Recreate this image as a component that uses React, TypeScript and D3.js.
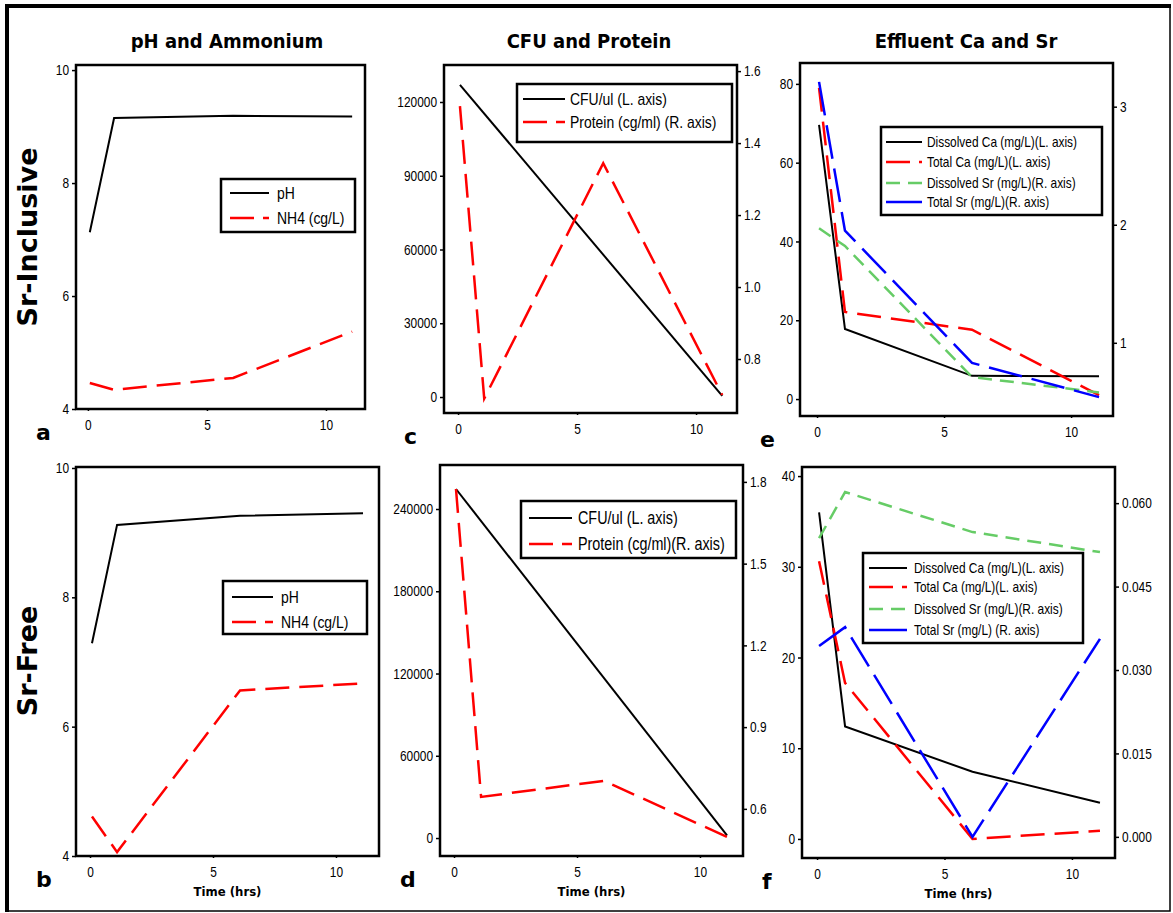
import { useRef, useEffect } from "react";
import { select, scaleLinear, axisLeft, axisRight, axisBottom, line, format } from "d3";

// sampling times (hrs)
const hours = [0.08, 1.1, 6.1, 11.1];
const cfuHours = [0.08, 11.1];

// Sr-Inclusive
const phInc = [7.13, 9.15, 9.19, 9.18];
const nh4Inc = [4.46, 4.34, 4.55, 5.37];
const cfuInc = [127000, 500];
const proteinInc = [1.503, 0.69, 1.344, 0.7];
const dissCaInc = [69.6, 17.8, 5.9, 5.8];
const totCaInc = [79, 22.1, 17.6, 1.0];
const dissSrInc = [1.97, 1.82, 0.71, 0.58];
const totSrInc = [3.21, 1.95, 0.83, 0.54];

// Sr-Free
const phFree = [7.29, 9.12, 9.26, 9.3];
const nh4Free = [4.61, 4.06, 6.56, 6.67];
const cfuFree = [254600, 2000];
const proteinFree = [1.774, 0.644, 0.703, 0.497];
const dissCaFree = [36.0, 12.4, 7.4, 4.0];
const totCaFree = [30.6, 17.2, 0, 0.9];
const dissSrFree = [0.0537, 0.062, 0.0548, 0.0512];
const totSrFree = [0.0343, 0.0377, 0.0, 0.0356];

// tick labels
const xTicks = [0, 5, 10];
const phTicks = [4, 6, 8, 10];
const cfuIncTicks = [0, 30000, 60000, 90000, 120000];
const protIncTicks = [0.8, 1.0, 1.2, 1.4, 1.6];
const cfuFreeTicks = [0, 60000, 120000, 180000, 240000];
const protFreeTicks = [0.6, 0.9, 1.2, 1.5, 1.8];
const caIncTicks = [0, 20, 40, 60, 80];
const srIncTicks = [1, 2, 3];
const caFreeTicks = [0, 10, 20, 30, 40];
const srFreeTicks = [0, 0.015, 0.03, 0.045, 0.06];

const titles = ["pH and Ammonium", "CFU and Protein", "Effluent Ca and Sr"];

const sans = "'Liberation Sans', Arial, sans-serif";
const boldFont = "'DejaVu Sans Condensed', 'DejaVu Sans', sans-serif";

const styles = {
  black: { color: "#000", dash: null, width: 2 },
  red: { color: "#ff0000", dash: "24,10", width: 2.5 },
  green: { color: "#66cc66", dash: "14,8", width: 2.5 },
  blue: { color: "#0000ff", dash: "34,10", width: 2.5 },
};

const panels = [
  {
    letter: "a", box: [76, 365, 65, 409], xDom: [-0.5, 11.64], yL: [4, 10.09], yLTicks: phTicks, yLFmt: format("d"),
    series: [
      { t: hours, v: phInc, s: "black", axis: "L", label: "pH" },
      { t: hours, v: nh4Inc, s: "red", axis: "L", label: "NH4 (cg/L)" },
    ],
    legend: { x: 221, y: 179, w: 134, h: 53, fs: 17, rows: [193, 218], lx: [230, 269], tx: 277 },
  },
  {
    letter: "c", box: [444, 737, 65, 413], xDom: [-0.59, 11.72], yL: [-6500, 135050], yLTicks: cfuIncTicks, yLFmt: format("d"),
    yR: [0.65, 1.617], yRTicks: protIncTicks, yRFmt: format(".1f"),
    series: [
      { t: cfuHours, v: cfuInc, s: "black", axis: "L", label: "CFU/ul (L. axis)" },
      { t: hours, v: proteinInc, s: "red", axis: "R", label: "Protein (cg/ml) (R. axis)" },
    ],
    legend: { x: 517, y: 84, w: 215, h: 58, fs: 17, rows: [99, 122], lx: [523, 565], tx: 570 },
  },
  {
    letter: "e", box: [800, 1113, 63, 416], xDom: [-0.67, 11.65], yL: [-4.3, 85.3], yLTicks: caIncTicks, yLFmt: format("d"),
    yR: [0.38, 3.37], yRTicks: srIncTicks, yRFmt: format("d"),
    series: [
      { t: hours, v: dissCaInc, s: "black", axis: "L", label: "Dissolved Ca (mg/L)(L. axis)" },
      { t: hours, v: totCaInc, s: "red", axis: "L", label: "Total Ca (mg/L)(L. axis)" },
      { t: hours, v: dissSrInc, s: "green", axis: "R", label: "Dissolved Sr (mg/L)(R. axis)" },
      { t: hours, v: totSrInc, s: "blue", axis: "R", label: "Total Sr (mg/L)(R. axis)" },
    ],
    legend: { x: 881, y: 127, w: 221, h: 88, fs: 14.5, rows: [142, 162, 183, 202], lx: [886, 922], tx: 927 },
  },
  {
    letter: "b", box: [76, 379, 467, 856], xDom: [-0.57, 11.75], yL: [4, 10.015], yLTicks: phTicks, yLFmt: format("d"),
    series: [
      { t: hours, v: phFree, s: "black", axis: "L", label: "pH" },
      { t: hours, v: nh4Free, s: "red", axis: "L", label: "NH4 (cg/L)" },
    ],
    legend: { x: 223, y: 581, w: 144, h: 53, fs: 17, rows: [597, 622], lx: [232, 273], tx: 281 },
    xLabel: true,
  },
  {
    letter: "d", box: [440, 743, 465, 856], xDom: [-0.57, 11.75], yL: [-13100, 272100], yLTicks: cfuFreeTicks, yLFmt: format("d"),
    yR: [0.427, 1.862], yRTicks: protFreeTicks, yRFmt: format(".1f"),
    series: [
      { t: cfuHours, v: cfuFree, s: "black", axis: "L", label: "CFU/ul (L. axis)" },
      { t: hours, v: proteinFree, s: "red", axis: "R", label: "Protein (cg/ml)(R. axis)" },
    ],
    legend: { x: 521, y: 501, w: 215, h: 57, fs: 17.5, rows: [518, 544], lx: [529, 572], tx: 578 },
    xLabel: true,
  },
  {
    letter: "f", box: [802, 1115, 467, 858], xDom: [-0.59, 11.69], yL: [-2.1, 41], yLTicks: caFreeTicks, yLFmt: format("d"),
    yR: [-0.0038, 0.0665], yRTicks: srFreeTicks, yRFmt: format(".3f"),
    series: [
      { t: hours, v: dissCaFree, s: "black", axis: "L", label: "Dissolved Ca (mg/L)(L. axis)" },
      { t: hours, v: totCaFree, s: "red", axis: "L", label: "Total Ca (mg/L)(L. axis)" },
      { t: hours, v: dissSrFree, s: "green", axis: "R", label: "Dissolved Sr (mg/L)(R. axis)" },
      { t: hours, v: totSrFree, s: "blue", axis: "R", label: "Total Sr (mg/L) (R. axis)" },
    ],
    legend: { x: 863, y: 553, w: 220, h: 90, fs: 14.5, rows: [568, 587, 609, 630], lx: [869, 907], tx: 914 },
    xLabel: true,
  },
];

// narrow the glyphs a bit (no condensed sans is installed)
function squeeze(sel, k = 0.82) {
  sel.each(function () {
    const w = this.getComputedTextLength();
    if (w > 0) {
      this.setAttribute("textLength", String(w * k));
      this.setAttribute("lengthAdjust", "spacingAndGlyphs");
    }
  });
}

function styleAxis(g) {
  g.select(".domain").remove();
  g.selectAll(".tick line").attr("stroke", "#000").attr("stroke-width", 1.5);
  g.selectAll(".tick text").attr("font-family", sans).attr("font-size", 14.5).attr("fill", "#000");
  squeeze(g.selectAll(".tick text"));
}

function drawPanel(svg, p) {
  const [left, right, top, bottom] = p.box;
  const g = svg.append("g");
  const x = scaleLinear().domain(p.xDom).range([left, right]);
  const yL = scaleLinear().domain(p.yL).range([bottom, top]);
  const yR = p.yR ? scaleLinear().domain(p.yR).range([bottom, top]) : null;

  g.append("g").attr("transform", `translate(${left},0)`)
    .call(axisLeft(yL).tickValues(p.yLTicks).tickFormat(p.yLFmt).tickSize(4).tickPadding(3))
    .call(styleAxis);
  if (yR) {
    g.append("g").attr("transform", `translate(${right},0)`)
      .call(axisRight(yR).tickValues(p.yRTicks).tickFormat(p.yRFmt).tickSize(4).tickPadding(3))
      .call(styleAxis);
  }
  g.append("g").attr("transform", `translate(0,${bottom})`)
    .call(axisBottom(x).tickValues(xTicks).tickFormat(format("d")).tickSize(2).tickPadding(9))
    .call(styleAxis);

  p.series.forEach((s) => {
    const st = styles[s.s];
    const y = s.axis === "R" ? yR : yL;
    const pts = s.t.map((t, i) => [t, s.v[i]]);
    g.append("path")
      .datum(pts)
      .attr("d", line().x((d) => x(d[0])).y((d) => y(d[1])))
      .attr("fill", "none")
      .attr("stroke", st.color)
      .attr("stroke-width", st.width)
      .attr("stroke-dasharray", st.dash)
      .attr("stroke-linejoin", "miter");
  });

  g.append("rect")
    .attr("x", left).attr("y", top)
    .attr("width", right - left).attr("height", bottom - top)
    .attr("fill", "none").attr("stroke", "#000").attr("stroke-width", 2.5);

  const lg = p.legend;
  const leg = g.append("g");
  leg.append("rect")
    .attr("x", lg.x).attr("y", lg.y).attr("width", lg.w).attr("height", lg.h)
    .attr("fill", "#fff").attr("stroke", "#000").attr("stroke-width", 2.5);
  p.series.forEach((s, i) => {
    const st = styles[s.s];
    const ry = lg.rows[i];
    leg.append("line")
      .attr("x1", lg.lx[0]).attr("x2", lg.lx[1]).attr("y1", ry).attr("y2", ry)
      .attr("stroke", st.color).attr("stroke-width", st.width)
      .attr("stroke-dasharray", s.s === "blue" ? null : s.s === "red" ? "24,9" : st.dash);
    leg.append("text")
      .attr("x", lg.tx).attr("y", ry).attr("dy", "0.35em")
      .attr("font-family", sans).attr("font-size", lg.fs).attr("fill", "#000")
      .text(s.label)
      .call(squeeze);
  });

  svg.append("text")
    .attr("x", left - 40).attr("y", bottom + 31)
    .attr("font-family", "'DejaVu Sans', sans-serif").attr("font-weight", "bold")
    .attr("font-size", 22).attr("fill", "#000")
    .text(p.letter);

  if (p.xLabel) {
    svg.append("text")
      .attr("x", (left + right) / 2).attr("y", bottom + 40)
      .attr("text-anchor", "middle")
      .attr("font-family", boldFont).attr("font-weight", "bold")
      .attr("font-size", 13).attr("fill", "#000")
      .text("Time (hrs)");
  }
}

function App() {
  const svgRef = useRef(null);
  useEffect(() => {
    const svg = select(svgRef.current);
    svg.selectAll("*").remove();

    // outer frame
    svg.append("rect").attr("x", 7).attr("y", 6).attr("width", 1163).attr("height", 905)
      .attr("fill", "none").attr("stroke", "#000").attr("stroke-width", 1.5);
    svg.append("line").attr("x1", 5).attr("x2", 1171).attr("y1", 6).attr("y2", 6)
      .attr("stroke", "#000").attr("stroke-width", 4);
    svg.append("line").attr("x1", 7).attr("x2", 7).attr("y1", 4).attr("y2", 912)
      .attr("stroke", "#000").attr("stroke-width", 4);

    const titleX = [227, 589, 966];
    titles.forEach((t, i) => {
      svg.append("text")
        .attr("x", titleX[i]).attr("y", 48)
        .attr("text-anchor", "middle")
        .attr("font-family", boldFont).attr("font-weight", "bold")
        .attr("font-size", 20).attr("fill", "#000")
        .text(t);
    });

    [["Sr-Inclusive", 237], ["Sr-Free", 661]].forEach(([t, cy]) => {
      svg.append("text")
        .attr("transform", `translate(37,${cy}) rotate(-90)`)
        .attr("text-anchor", "middle")
        .attr("font-family", "'DejaVu Sans', sans-serif").attr("font-weight", "bold")
        .attr("font-size", 27).attr("fill", "#000")
        .text(t);
    });

    panels.forEach((p) => drawPanel(svg, p));
  }, []);

  return (
    <svg
      ref={svgRef}
      width={1173}
      height={913}
      style={{ position: "absolute", left: 0, top: 0, background: "#fff" }}
    />
  );
}

export default App;
